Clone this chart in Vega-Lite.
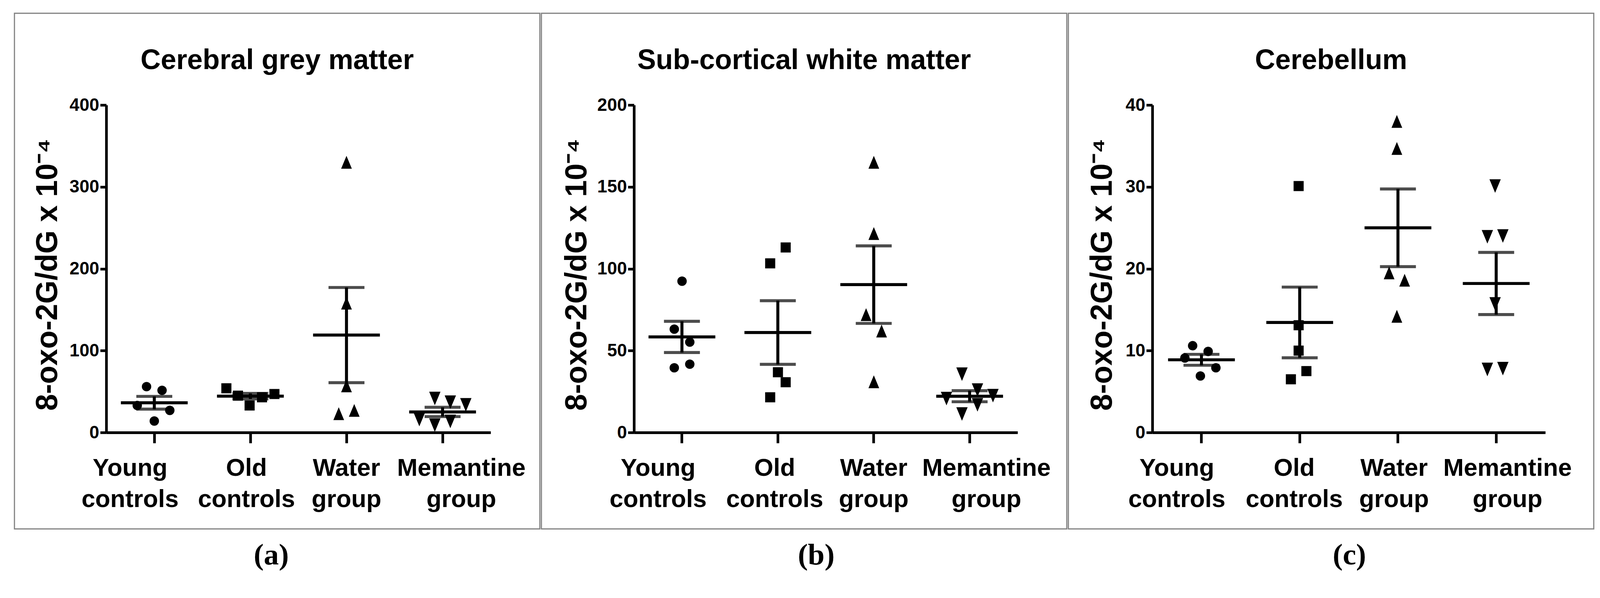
{
  "$schema": "https://vega.github.io/schema/vega-lite/v6.json",
  "background": "white",
  "padding": {"left": 35, "top": 32, "right": 20, "bottom": 20},
  "config": {
    "view": {"stroke": "#7f7f7f", "strokeWidth": 2.9},
    "concat": {"spacing": 0},
    "title": {"font": "Liberation Sans", "fontSize": 71.5, "fontWeight": "bold", "color": "black", "anchor": "middle", "frame": "group"}
  },
  "datasets": {
    "grey": [
      {"group": "Young controls", "value": 56, "slot": -1},
      {"group": "Young controls", "value": 51.5, "slot": 1},
      {"group": "Young controls", "value": 33, "slot": -2.2},
      {"group": "Young controls", "value": 27, "slot": 2},
      {"group": "Young controls", "value": 14, "slot": 0},
      {"group": "Old controls", "value": 54, "slot": -3.1},
      {"group": "Old controls", "value": 45, "slot": -1.6},
      {"group": "Old controls", "value": 33, "slot": -0.1},
      {"group": "Old controls", "value": 43, "slot": 1.5},
      {"group": "Old controls", "value": 47, "slot": 3.1},
      {"group": "Water group", "value": 330, "slot": 0},
      {"group": "Water group", "value": 158, "slot": 0},
      {"group": "Water group", "value": 57, "slot": 0},
      {"group": "Water group", "value": 23, "slot": -1},
      {"group": "Water group", "value": 27, "slot": 1},
      {"group": "Memantine group", "value": 15.8, "slot": -3},
      {"group": "Memantine group", "value": 41.5, "slot": -1},
      {"group": "Memantine group", "value": 9, "slot": -1},
      {"group": "Memantine group", "value": 37, "slot": 1},
      {"group": "Memantine group", "value": 13.5, "slot": 1},
      {"group": "Memantine group", "value": 33.8, "slot": 3}
    ],
    "white": [
      {"group": "Young controls", "value": 92.4, "slot": 0},
      {"group": "Young controls", "value": 63.1, "slot": -1},
      {"group": "Young controls", "value": 55.2, "slot": 1},
      {"group": "Young controls", "value": 39.5, "slot": -1},
      {"group": "Young controls", "value": 41.7, "slot": 1},
      {"group": "Old controls", "value": 103.3, "slot": -1},
      {"group": "Old controls", "value": 113, "slot": 1},
      {"group": "Old controls", "value": 36.8, "slot": 0},
      {"group": "Old controls", "value": 30.7, "slot": 1},
      {"group": "Old controls", "value": 21.5, "slot": -1},
      {"group": "Water group", "value": 165, "slot": 0},
      {"group": "Water group", "value": 121.5, "slot": 0},
      {"group": "Water group", "value": 72, "slot": -1},
      {"group": "Water group", "value": 62, "slot": 1},
      {"group": "Water group", "value": 31, "slot": 0},
      {"group": "Memantine group", "value": 35.6, "slot": -1},
      {"group": "Memantine group", "value": 20.7, "slot": -3},
      {"group": "Memantine group", "value": 25.9, "slot": 1},
      {"group": "Memantine group", "value": 16.9, "slot": 1},
      {"group": "Memantine group", "value": 22.5, "slot": 3},
      {"group": "Memantine group", "value": 11.3, "slot": -1}
    ],
    "cereb": [
      {"group": "Young controls", "value": 10.6, "slot": -1},
      {"group": "Young controls", "value": 9.9, "slot": 1},
      {"group": "Young controls", "value": 9.1, "slot": -2},
      {"group": "Young controls", "value": 7.9, "slot": 2},
      {"group": "Young controls", "value": 6.9, "slot": 0},
      {"group": "Old controls", "value": 30.1, "slot": 0},
      {"group": "Old controls", "value": 13.1, "slot": 0},
      {"group": "Old controls", "value": 10, "slot": 0},
      {"group": "Old controls", "value": 7.5, "slot": 1},
      {"group": "Old controls", "value": 6.5, "slot": -1},
      {"group": "Water group", "value": 38, "slot": 0},
      {"group": "Water group", "value": 34.7, "slot": 0},
      {"group": "Water group", "value": 19.5, "slot": -1},
      {"group": "Water group", "value": 18.6, "slot": 1},
      {"group": "Water group", "value": 14.2, "slot": 0},
      {"group": "Memantine group", "value": 30.1, "slot": 0},
      {"group": "Memantine group", "value": 23.9, "slot": -1},
      {"group": "Memantine group", "value": 24, "slot": 1},
      {"group": "Memantine group", "value": 15.7, "slot": 0},
      {"group": "Memantine group", "value": 7.7, "slot": -1},
      {"group": "Memantine group", "value": 7.8, "slot": 1}
    ]
  },
  "hconcat": [
    {
      "width": 1345, "height": 1321,
      "data": {"name": "grey"},
      "title": {"text": "Cerebral grey matter", "offset": -158},
      "encoding": {
        "x": {
          "field": "group", "type": "nominal",
          "sort": ["Young controls", "Old controls", "Water group", "Memantine group"],
          "scale": {"type": "band", "range": [235, 1219], "paddingInner": 0, "paddingOuter": 0},
          "axis": {"orient": "bottom", "offset": -247, "title": "(a)", "titleFont": "Liberation Serif", "titleFontSize": 77, "titleFontWeight": "bold", "titleColor": "black", "titleX": 657, "titleY": 337, "titleBaseline": "alphabetic", "titleAlign": "center", "labelFont": "Liberation Sans", "labelFontSize": 63, "labelFontWeight": "bold", "labelColor": "black", "labelLineHeight": 80, "labelLimit": 0, "labelExpr": "split(datum.label, ' ')", "labelAngle": 0, "labelPadding": 33,
            "labelOffset": {"condition": [{"test": "datum.value === 'Young controls'", "value": -62}, {"test": "datum.value === 'Old controls'", "value": -10}, {"test": "datum.value === 'Memantine group'", "value": 48}], "value": 0},
            "tickSize": 27, "tickWidth": 6.8, "tickColor": "black", "domainColor": "black", "domainWidth": 6.8, "grid": false, "labelOverlap": false, "labelBound": false}
        }
      },
      "layer": [
        {
          "mark": {"type": "point", "filled": true, "opacity": 1, "color": "black", "strokeWidth": 0},
          "encoding": {
            "xOffset": {"field": "slot", "type": "quantitative", "scale": {"domain": [-6.06, 6.06]}},
            "y": {"field": "value", "type": "quantitative", "title": "8-oxo-2G/dG x 10⁻⁴",
              "scale": {"domain": [0, 400], "range": [1074, 235], "nice": false},
              "axis": {"orient": "left", "offset": -235, "values": [0, 100, 200, 300, 400], "titleFont": "Liberation Sans", "titleFontSize": 77, "titleFontWeight": "bold", "titleColor": "black", "titleX": -127, "titleY": 669, "titleBaseline": "alphabetic", "titleAngle": 270, "titleAlign": "center", "labelFont": "Liberation Sans", "labelFontSize": 45.5, "labelFontWeight": "bold", "labelColor": "black", "labelPadding": 3, "labelFlush": false, "labelOverlap": false, "labelBound": false, "tickSize": 15.5, "tickWidth": 6.8, "tickColor": "black", "domainColor": "black", "domainWidth": 6.8, "grid": false}},
            "shape": {"field": "group", "type": "nominal", "legend": null,
              "scale": {"domain": ["Young controls", "Old controls", "Water group", "Memantine group"], "range": ["circle", "square", "M0,-1.2L1,1.2L-1,1.2Z", "M0,1.2L1,-1.2L-1,-1.2Z"]}},
            "size": {"field": "group", "type": "nominal", "legend": null,
              "scale": {"domain": ["Young controls", "Old controls", "Water group", "Memantine group"], "range": [580, 842, 842, 842]}}
          }
        },
        {
          "mark": {"type": "tick", "size": 171, "thickness": 7.7, "color": "black", "opacity": 1},
          "encoding": {"y": {"aggregate": "mean", "field": "value", "type": "quantitative", "title": "8-oxo-2G/dG x 10⁻⁴"}}
        },
        {
          "mark": {"type": "errorbar", "extent": "stderr", "ticks": true, "size": 92, "thickness": 7.7, "color": "black"},
          "encoding": {"y": {"field": "value", "type": "quantitative", "title": "8-oxo-2G/dG x 10⁻⁴"}}
        }
      ]
    },
    {
      "width": 1345, "height": 1321,
      "data": {"name": "white"},
      "title": {"text": "Sub-cortical white matter", "offset": -158},
      "encoding": {
        "x": {
          "field": "group", "type": "nominal",
          "sort": ["Young controls", "Old controls", "Water group", "Memantine group"],
          "scale": {"type": "band", "range": [237, 1219], "paddingInner": 0, "paddingOuter": 0},
          "axis": {"orient": "bottom", "offset": -247, "title": "(b)", "titleFont": "Liberation Serif", "titleFontSize": 77, "titleFontWeight": "bold", "titleColor": "black", "titleX": 703, "titleY": 337, "titleBaseline": "alphabetic", "titleAlign": "center", "labelFont": "Liberation Sans", "labelFontSize": 63, "labelFontWeight": "bold", "labelColor": "black", "labelLineHeight": 80, "labelLimit": 0, "labelExpr": "split(datum.label, ' ')", "labelAngle": 0, "labelPadding": 33,
            "labelOffset": {"condition": [{"test": "datum.value === 'Young controls'", "value": -61}, {"test": "datum.value === 'Old controls'", "value": -8}, {"test": "datum.value === 'Memantine group'", "value": 43}], "value": 0},
            "tickSize": 27, "tickWidth": 6.8, "tickColor": "black", "domainColor": "black", "domainWidth": 6.8, "grid": false, "labelOverlap": false, "labelBound": false}
        }
      },
      "layer": [
        {
          "mark": {"type": "point", "filled": true, "opacity": 1, "color": "black", "strokeWidth": 0},
          "encoding": {
            "xOffset": {"field": "slot", "type": "quantitative", "scale": {"domain": [-6.05, 6.05]}},
            "y": {"field": "value", "type": "quantitative", "title": "8-oxo-2G/dG x 10⁻⁴",
              "scale": {"domain": [0, 200], "range": [1074, 235], "nice": false},
              "axis": {"orient": "left", "offset": -237, "values": [0, 50, 100, 150, 200], "titleFont": "Liberation Sans", "titleFontSize": 77, "titleFontWeight": "bold", "titleColor": "black", "titleX": -123, "titleY": 669, "titleBaseline": "alphabetic", "titleAngle": 270, "titleAlign": "center", "labelFont": "Liberation Sans", "labelFontSize": 45.5, "labelFontWeight": "bold", "labelColor": "black", "labelPadding": 3, "labelFlush": false, "labelOverlap": false, "labelBound": false, "tickSize": 15.5, "tickWidth": 6.8, "tickColor": "black", "domainColor": "black", "domainWidth": 6.8, "grid": false}},
            "shape": {"field": "group", "type": "nominal", "legend": null,
              "scale": {"domain": ["Young controls", "Old controls", "Water group", "Memantine group"], "range": ["circle", "square", "M0,-1.2L1,1.2L-1,1.2Z", "M0,1.2L1,-1.2L-1,-1.2Z"]}},
            "size": {"field": "group", "type": "nominal", "legend": null,
              "scale": {"domain": ["Young controls", "Old controls", "Water group", "Memantine group"], "range": [580, 842, 842, 842]}}
          }
        },
        {
          "mark": {"type": "tick", "size": 171, "thickness": 7.7, "color": "black", "opacity": 1},
          "encoding": {"y": {"aggregate": "mean", "field": "value", "type": "quantitative", "title": "8-oxo-2G/dG x 10⁻⁴"}}
        },
        {
          "mark": {"type": "errorbar", "extent": "stderr", "ticks": true, "size": 92, "thickness": 7.7, "color": "black"},
          "encoding": {"y": {"field": "value", "type": "quantitative", "title": "8-oxo-2G/dG x 10⁻⁴"}}
        }
      ]
    },
    {
      "width": 1345, "height": 1321,
      "data": {"name": "cereb"},
      "title": {"text": "Cerebellum", "offset": -158},
      "encoding": {
        "x": {
          "field": "group", "type": "nominal",
          "sort": ["Young controls", "Old controls", "Water group", "Memantine group"],
          "scale": {"type": "band", "range": [215, 1221], "paddingInner": 0, "paddingOuter": 0},
          "axis": {"orient": "bottom", "offset": -247, "title": "(c)", "titleFont": "Liberation Serif", "titleFontSize": 77, "titleFontWeight": "bold", "titleColor": "black", "titleX": 719, "titleY": 337, "titleBaseline": "alphabetic", "titleAlign": "center", "labelFont": "Liberation Sans", "labelFontSize": 63, "labelFontWeight": "bold", "labelColor": "black", "labelLineHeight": 80, "labelLimit": 0, "labelExpr": "split(datum.label, ' ')", "labelAngle": 0, "labelPadding": 33,
            "labelOffset": {"condition": [{"test": "datum.value === 'Young controls'", "value": -63}, {"test": "datum.value === 'Old controls'", "value": -14}, {"test": "datum.value === 'Water group'", "value": -10}, {"test": "datum.value === 'Memantine group'", "value": 29}], "value": 0},
            "tickSize": 27, "tickWidth": 6.8, "tickColor": "black", "domainColor": "black", "domainWidth": 6.8, "grid": false, "labelOverlap": false, "labelBound": false}
        }
      },
      "layer": [
        {
          "mark": {"type": "point", "filled": true, "opacity": 1, "color": "black", "strokeWidth": 0},
          "encoding": {
            "xOffset": {"field": "slot", "type": "quantitative", "scale": {"domain": [-6.2, 6.2]}},
            "y": {"field": "value", "type": "quantitative", "title": "8-oxo-2G/dG x 10⁻⁴",
              "scale": {"domain": [0, 40], "range": [1074, 235], "nice": false},
              "axis": {"orient": "left", "offset": -215, "values": [0, 10, 20, 30, 40], "titleFont": "Liberation Sans", "titleFontSize": 77, "titleFontWeight": "bold", "titleColor": "black", "titleX": -105, "titleY": 669, "titleBaseline": "alphabetic", "titleAngle": 270, "titleAlign": "center", "labelFont": "Liberation Sans", "labelFontSize": 45.5, "labelFontWeight": "bold", "labelColor": "black", "labelPadding": 3, "labelFlush": false, "labelOverlap": false, "labelBound": false, "tickSize": 15.5, "tickWidth": 6.8, "tickColor": "black", "domainColor": "black", "domainWidth": 6.8, "grid": false}},
            "shape": {"field": "group", "type": "nominal", "legend": null,
              "scale": {"domain": ["Young controls", "Old controls", "Water group", "Memantine group"], "range": ["circle", "square", "M0,-1.2L1,1.2L-1,1.2Z", "M0,1.2L1,-1.2L-1,-1.2Z"]}},
            "size": {"field": "group", "type": "nominal", "legend": null,
              "scale": {"domain": ["Young controls", "Old controls", "Water group", "Memantine group"], "range": [580, 842, 842, 842]}}
          }
        },
        {
          "mark": {"type": "tick", "size": 171, "thickness": 7.7, "color": "black", "opacity": 1},
          "encoding": {"y": {"aggregate": "mean", "field": "value", "type": "quantitative", "title": "8-oxo-2G/dG x 10⁻⁴"}}
        },
        {
          "mark": {"type": "errorbar", "extent": "stderr", "ticks": true, "size": 92, "thickness": 7.7, "color": "black"},
          "encoding": {"y": {"field": "value", "type": "quantitative", "title": "8-oxo-2G/dG x 10⁻⁴"}}
        }
      ]
    }
  ]
}
